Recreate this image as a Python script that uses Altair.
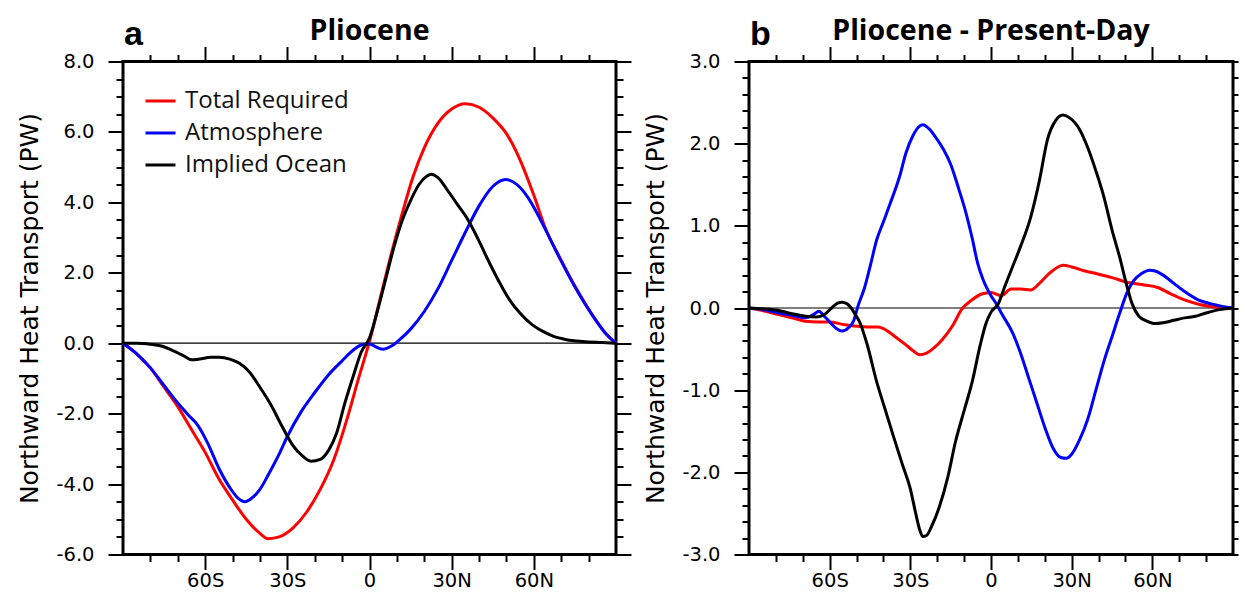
import altair as alt
import pandas as pd

SERIES = ["Total Required", "Atmosphere", "Implied Ocean"]
COLORS = ["#ff0000", "#0000ff", "#000000"]

# ---------------- Panel a : Pliocene ----------------
a_tot_lat = [-90, -85, -80, -75, -70, -65, -60, -55, -50, -45, -40, -37, -33, -28, -23, -18, -13, -8, -4, 0,
             4, 8, 12, 16, 20, 25, 30, 35, 40, 45, 50, 55, 60, 64.3, 70, 75.3, 81.4, 86, 90]
a_tot_val = [0, -0.3, -0.7, -1.25, -1.8, -2.45, -3.1, -3.85, -4.45, -5.0, -5.4, -5.55, -5.5, -5.25, -4.8, -4.15,
             -3.3, -2.1, -1.0, 0.05, 1.3, 2.55, 3.7, 4.75, 5.55, 6.25, 6.65, 6.8, 6.7, 6.4, 5.95, 5.2, 4.2, 3.25,
             2.35, 1.58, 0.8, 0.3, 0]

a_atm_lat = [-90, -85, -80, -75, -70, -66, -63, -59, -55, -51, -48, -45.5, -43, -40, -36.7, -33, -30, -25, -20,
             -15, -10, -6, -3, 0, 3, 5, 8, 11, 15, 20, 25, 30, 35, 40, 45, 49.7, 52, 55, 58, 61, 64.3, 70, 75.3,
             81.4, 86, 90]
a_atm_val = [0, -0.3, -0.7, -1.2, -1.7, -2.05, -2.3, -2.85, -3.55, -4.1, -4.4, -4.5, -4.4, -4.15, -3.7, -3.15,
             -2.65, -1.95, -1.4, -0.9, -0.5, -0.2, -0.05, -0.02, -0.13, -0.17, -0.08, 0.1, 0.4, 0.9, 1.55, 2.35,
             3.15, 3.9, 4.45, 4.65, 4.6, 4.42, 4.12, 3.72, 3.22, 2.33, 1.56, 0.79, 0.3, 0]

a_ocn_lat = [-90, -85, -80, -76, -72, -68, -65, -62, -58, -55, -51, -47.5, -44, -40, -36, -32, -28, -24.5, -21.4,
             -18, -15, -12, -9, -6, -3, 0, 3, 6, 9, 12, 15, 18, 21, 22.5, 25, 28, 32, 36, 40, 44, 48, 51, 55, 59,
             63, 67, 72, 78, 85, 90]
a_ocn_val = [0, 0, -0.03, -0.08, -0.2, -0.35, -0.47, -0.45, -0.4, -0.4, -0.45, -0.57, -0.8, -1.25, -1.75, -2.35,
             -2.9, -3.2, -3.35, -3.3, -3.05, -2.55, -1.7, -0.95, -0.25, 0.15, 0.95, 1.85, 2.75, 3.5, 4.05, 4.5,
             4.75, 4.8, 4.7, 4.4, 3.95, 3.5, 2.9, 2.25, 1.65, 1.25, 0.85, 0.55, 0.35, 0.2, 0.1, 0.05, 0.02, 0]

# ---------------- Panel b : Pliocene - Present-Day ----------------
b_tot_lat = [-90, -85, -79, -74, -69, -64, -60, -55, -51, -46, -42, -39, -36, -32, -29, -26.5, -24, -21, -18,
             -14, -11, -7, -3.5, 0, 3.8, 7.5, 11, 14.8, 18, 22, 26.8, 30, 35, 39, 45, 51, 57, 62, 67, 72, 78,
             84, 90]
b_tot_val = [0, -0.03, -0.08, -0.12, -0.16, -0.17, -0.17, -0.2, -0.22, -0.23, -0.23, -0.27, -0.34, -0.44, -0.52,
             -0.57, -0.55, -0.48, -0.38, -0.2, -0.02, 0.1, 0.17, 0.19, 0.15, 0.23, 0.23, 0.22, 0.3, 0.43, 0.52,
             0.5, 0.45, 0.42, 0.37, 0.31, 0.28, 0.25, 0.17, 0.1, 0.04, 0.01, 0]

b_atm_lat = [-90, -85, -79, -74, -69, -66, -64, -62, -60, -57.5, -55.5, -53, -51, -49.5, -47, -45, -42.5, -40,
             -37.4, -34, -31.6, -29, -27, -25.4, -23, -20, -17.5, -15, -12, -9.5, -7, -5, -3, 0, 2, 4, 8, 11,
             14, 17, 20, 23, 26, 28, 30, 33, 36, 39, 42, 45, 48, 50.5, 53, 56, 59, 61, 64, 68, 72, 77, 82, 86, 90]
b_atm_val = [0, -0.02, -0.06, -0.09, -0.12, -0.08, -0.04, -0.1, -0.17, -0.25, -0.28, -0.24, -0.15, 0.02, 0.25,
             0.5, 0.83, 1.05, 1.28, 1.6, 1.89, 2.1, 2.2, 2.23, 2.18, 2.05, 1.92, 1.75, 1.45, 1.18, 0.85, 0.55,
             0.35, 0.15, 0.05, -0.07, -0.3, -0.55, -0.85, -1.15, -1.45, -1.7, -1.82, -1.83, -1.78, -1.6, -1.35,
             -1.0, -0.65, -0.35, -0.05, 0.18, 0.33, 0.42, 0.46, 0.45, 0.4, 0.3, 0.2, 0.1, 0.05, 0.02, 0]

b_ocn_lat = [-90, -85, -79, -74, -69, -65, -62, -59.3, -57, -55.5, -53.5, -52, -50.5, -49, -46, -42.5, -39.5,
             -36.3, -33, -30, -28, -26.5, -25.4, -24, -22, -19.2, -16, -13.3, -10, -7, -4, -2, 0, 2.7, 5, 8.6,
             11, 14.8, 18, 21, 24, 26.8, 29, 33, 36, 39.2, 42, 45, 48, 50.2, 52.5, 55, 58, 61, 64, 68, 72, 76,
             80, 85, 90]
b_ocn_val = [0, -0.01, -0.03, -0.07, -0.1, -0.11, -0.08, 0.0, 0.06, 0.07, 0.05, 0.0, -0.08, -0.16, -0.45, -0.9,
             -1.22, -1.56, -1.9, -2.2, -2.5, -2.7, -2.78, -2.77, -2.65, -2.42, -2.05, -1.64, -1.25, -0.9, -0.45,
             -0.2, -0.05, 0.05, 0.25, 0.55, 0.75, 1.11, 1.55, 2.05, 2.28, 2.35, 2.32, 2.17, 1.95, 1.65, 1.35,
             0.95, 0.6, 0.31, 0.05, -0.1, -0.16, -0.19, -0.18, -0.15, -0.12, -0.1, -0.06, -0.02, 0]

X_MAJOR = [-60, -30, 0, 30, 60]
X_MINOR = [-80, -70, -50, -40, -20, -10, 10, 20, 40, 50, 70, 80]

a_y_major = [-6, -4, -2, 0, 2, 4, 6, 8]
a_y_minor = [-5.5, -5, -4.5, -3.5, -3, -2.5, -1.5, -1, -0.5, 0.5, 1, 1.5, 2.5, 3, 3.5, 4.5, 5, 5.5, 6.5, 7, 7.5]
b_y_major = [-3, -2, -1, 0, 1, 2, 3]
b_y_minor = [v / 10 for v in range(-28, 30, 2) if v % 10 != 0]

AXIS_FONT = "DejaVu Sans"
TEXT_FONT = "Open Sans"
LETTER_FONT = "Liberation Sans"
H = 493
MAJ = 15
MIN = 7


def long_df(parts):
    rows = []
    for name, lats, vals in parts:
        for la, va in zip(lats, vals):
            rows.append({"series": name, "lat": la, "val": va})
    return pd.DataFrame(rows)


def panel(df, ymin, ymax, ymaj, ymin_ticks, letter, title, show_legend, width, right_tick):
    xs = alt.Scale(domain=[-90, 90], nice=False, zero=False)
    ys = alt.Scale(domain=[ymin, ymax], nice=False, zero=False)

    common = dict(domain=False, grid=False, ticks=True, tickColor="black", tickWidth=2,
                  labelFont=AXIS_FONT, labelColor="black", labelFontSize=19.5)

    xlab = "datum.value == 0 ? '0' : (datum.value < 0 ? abs(datum.value) + 'S' : datum.value + 'N')"
    ylab = "(datum.value < 0 ? '-' : '') + format(abs(datum.value), '.1f')"

    def xa(orient, values, size, labels):
        return alt.X("lat:Q", scale=xs, title=None,
                     axis=alt.Axis(orient=orient, values=values, tickSize=size, labels=labels,
                                   labelExpr=xlab, labelPadding=2, **common))

    def ya(orient, values, size, labels, ttl=None):
        kw = {}
        if ttl:
            kw = dict(title=ttl, titleFont=AXIS_FONT, titleFontSize=25, titleFontWeight="normal",
                      titleColor="black", titleX=-81, titleBaseline="bottom", titleAngle=270)
        return alt.Y("val:Q", scale=ys, title=ttl if ttl else None,
                     axis=alt.Axis(orient=orient, values=values, tickSize=size, labels=labels,
                                   labelExpr=ylab, labelPadding=14, **common, **kw))

    legend = None
    if show_legend:
        legend = alt.Legend(orient="none", legendX=21, legendY=23, title=None, symbolType="stroke",
                            symbolStrokeWidth=3, symbolSize=900, labelFont=TEXT_FONT, labelFontSize=24,
                            labelColor="#111111", labelOffset=8, rowPadding=3, padding=0, labelLimit=0)
    color = alt.Color("series:N", scale=alt.Scale(domain=SERIES, range=COLORS), legend=legend)

    base = alt.Chart(df)
    zero = alt.Chart(pd.DataFrame({"val": [0.0]})).mark_rule(color="black", strokeWidth=1.2).encode(
        y=alt.Y("val:Q", scale=ys, axis=None))
    lines = base.mark_line(strokeWidth=3, interpolate="monotone").encode(
        x=xa("bottom", X_MAJOR, MAJ, True),
        y=ya("left", ymaj, MAJ, True, "Northward Heat Transport (PW)"),
        color=color, order="lat:Q")
    ax2 = base.mark_line(opacity=0).encode(x=xa("top", X_MAJOR, MAJ, False),
                                          y=ya("right", ymaj, right_tick, False), detail="series:N")
    ax3 = base.mark_line(opacity=0).encode(x=xa("bottom", X_MINOR, MIN, False),
                                          y=ya("left", ymin_ticks, MIN, False), detail="series:N")
    ax4 = base.mark_line(opacity=0).encode(x=xa("top", X_MINOR, MIN, False),
                                          y=ya("right", ymin_ticks, min(MIN, right_tick), False),
                                          detail="series:N")
    txt = alt.Chart(pd.DataFrame({"t": [letter], "s": [title]}))
    let = txt.mark_text(font=LETTER_FONT, fontSize=34, fontWeight="bold", align="left",
                        baseline="alphabetic", color="black").encode(
        text="t:N", x=alt.value(1), y=alt.value(-16.7))
    ttl = txt.mark_text(font=TEXT_FONT, fontSize=28.5, fontWeight="bold", align="center",
                        baseline="alphabetic", color="black").encode(
        text="s:N", x=alt.value(width / 2), y=alt.value(-21.7))

    return alt.layer(zero, lines, ax2, ax3, ax4, let, ttl).resolve_axis(
        x="independent", y="independent").properties(width=width, height=H)


df_a = long_df([(SERIES[0], a_tot_lat, a_tot_val), (SERIES[1], a_atm_lat, a_atm_val),
                (SERIES[2], a_ocn_lat, a_ocn_val)])
df_b = long_df([(SERIES[0], b_tot_lat, b_tot_val), (SERIES[1], b_atm_lat, b_atm_val),
                (SERIES[2], b_ocn_lat, b_ocn_val)])

pa = panel(df_a, -6, 8, a_y_major, a_y_minor, "a", "Pliocene", True, 493, MAJ)
pb = panel(df_b, -3, 3, b_y_major, b_y_minor, "b", "Pliocene - Present-Day", False, 484, 5)

chart = alt.hconcat(pa, pb, spacing=7).resolve_scale(color="independent").resolve_legend(
    color="independent").properties(
    background="white",
    padding={"left": 7, "top": 6.5, "right": 0, "bottom": 0}).configure_view(
    stroke="black", strokeWidth=3)

chart.save("out.html", embed_options={"renderer": "svg", "actions": False})
